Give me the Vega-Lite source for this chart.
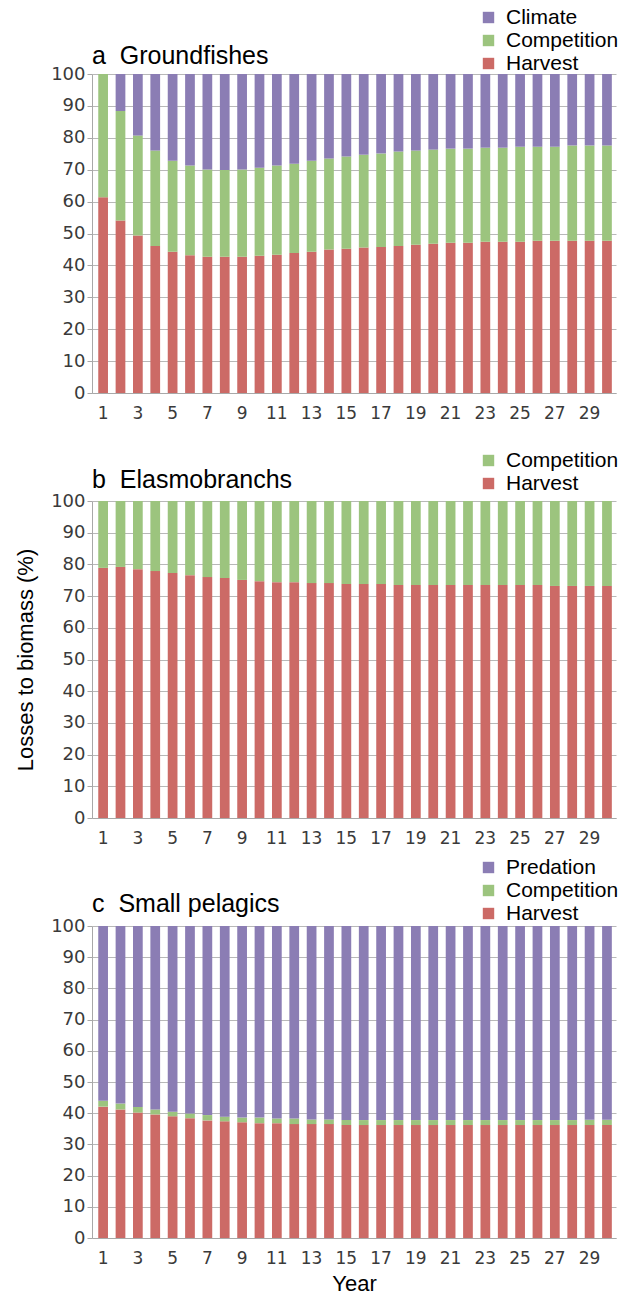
{
  "$schema": "https://vega.github.io/schema/vega-lite/v6.json",
  "padding": {"left": 14, "top": 7, "right": 4, "bottom": 1},
  "background": "white",
  "datasets": {
    "ground": [
      {"year": 1, "Harvest": 61.4, "Competition": 38.6, "Climate": 0},
      {"year": 2, "Harvest": 54.1, "Competition": 34.3, "Climate": 11.6},
      {"year": 3, "Harvest": 49.4, "Competition": 31.3, "Climate": 19.3},
      {"year": 4, "Harvest": 46.1, "Competition": 29.9, "Climate": 24.0},
      {"year": 5, "Harvest": 44.3, "Competition": 28.5, "Climate": 27.2},
      {"year": 6, "Harvest": 43.2, "Competition": 28.1, "Climate": 28.7},
      {"year": 7, "Harvest": 42.7, "Competition": 27.4, "Climate": 29.9},
      {"year": 8, "Harvest": 42.7, "Competition": 27.2, "Climate": 30.1},
      {"year": 9, "Harvest": 42.7, "Competition": 27.4, "Climate": 29.9},
      {"year": 10, "Harvest": 43.0, "Competition": 27.6, "Climate": 29.4},
      {"year": 11, "Harvest": 43.3, "Competition": 28.0, "Climate": 28.7},
      {"year": 12, "Harvest": 43.9, "Competition": 28.0, "Climate": 28.1},
      {"year": 13, "Harvest": 44.3, "Competition": 28.5, "Climate": 27.2},
      {"year": 14, "Harvest": 45.0, "Competition": 28.5, "Climate": 26.5},
      {"year": 15, "Harvest": 45.2, "Competition": 28.9, "Climate": 25.9},
      {"year": 16, "Harvest": 45.6, "Competition": 29.1, "Climate": 25.3},
      {"year": 17, "Harvest": 45.8, "Competition": 29.3, "Climate": 24.9},
      {"year": 18, "Harvest": 46.1, "Competition": 29.6, "Climate": 24.3},
      {"year": 19, "Harvest": 46.5, "Competition": 29.5, "Climate": 24.0},
      {"year": 20, "Harvest": 46.8, "Competition": 29.5, "Climate": 23.7},
      {"year": 21, "Harvest": 47.1, "Competition": 29.5, "Climate": 23.4},
      {"year": 22, "Harvest": 47.1, "Competition": 29.5, "Climate": 23.4},
      {"year": 23, "Harvest": 47.4, "Competition": 29.5, "Climate": 23.1},
      {"year": 24, "Harvest": 47.4, "Competition": 29.5, "Climate": 23.1},
      {"year": 25, "Harvest": 47.4, "Competition": 29.8, "Climate": 22.8},
      {"year": 26, "Harvest": 47.7, "Competition": 29.5, "Climate": 22.8},
      {"year": 27, "Harvest": 47.7, "Competition": 29.5, "Climate": 22.8},
      {"year": 28, "Harvest": 47.7, "Competition": 29.9, "Climate": 22.4},
      {"year": 29, "Harvest": 47.7, "Competition": 29.9, "Climate": 22.4},
      {"year": 30, "Harvest": 47.7, "Competition": 29.9, "Climate": 22.4}
    ],
    "elasmo": [
      {"year": 1, "Harvest": 78.9, "Competition": 21.1},
      {"year": 2, "Harvest": 79.2, "Competition": 20.8},
      {"year": 3, "Harvest": 78.5, "Competition": 21.5},
      {"year": 4, "Harvest": 77.9, "Competition": 22.1},
      {"year": 5, "Harvest": 77.3, "Competition": 22.7},
      {"year": 6, "Harvest": 76.6, "Competition": 23.4},
      {"year": 7, "Harvest": 76.0, "Competition": 24.0},
      {"year": 8, "Harvest": 75.7, "Competition": 24.3},
      {"year": 9, "Harvest": 75.1, "Competition": 24.9},
      {"year": 10, "Harvest": 74.7, "Competition": 25.3},
      {"year": 11, "Harvest": 74.4, "Competition": 25.6},
      {"year": 12, "Harvest": 74.4, "Competition": 25.6},
      {"year": 13, "Harvest": 74.1, "Competition": 25.9},
      {"year": 14, "Harvest": 74.1, "Competition": 25.9},
      {"year": 15, "Harvest": 73.8, "Competition": 26.2},
      {"year": 16, "Harvest": 73.8, "Competition": 26.2},
      {"year": 17, "Harvest": 73.8, "Competition": 26.2},
      {"year": 18, "Harvest": 73.5, "Competition": 26.5},
      {"year": 19, "Harvest": 73.5, "Competition": 26.5},
      {"year": 20, "Harvest": 73.5, "Competition": 26.5},
      {"year": 21, "Harvest": 73.5, "Competition": 26.5},
      {"year": 22, "Harvest": 73.5, "Competition": 26.5},
      {"year": 23, "Harvest": 73.5, "Competition": 26.5},
      {"year": 24, "Harvest": 73.5, "Competition": 26.5},
      {"year": 25, "Harvest": 73.5, "Competition": 26.5},
      {"year": 26, "Harvest": 73.5, "Competition": 26.5},
      {"year": 27, "Harvest": 73.2, "Competition": 26.8},
      {"year": 28, "Harvest": 73.2, "Competition": 26.8},
      {"year": 29, "Harvest": 73.2, "Competition": 26.8},
      {"year": 30, "Harvest": 73.2, "Competition": 26.8}
    ],
    "pelagic": [
      {"year": 1, "Harvest": 42.1, "Competition": 1.9, "Predation": 56.0},
      {"year": 2, "Harvest": 41.2, "Competition": 1.9, "Predation": 56.9},
      {"year": 3, "Harvest": 40.2, "Competition": 1.8, "Predation": 58.0},
      {"year": 4, "Harvest": 39.6, "Competition": 1.6, "Predation": 58.8},
      {"year": 5, "Harvest": 39.0, "Competition": 1.5, "Predation": 59.5},
      {"year": 6, "Harvest": 38.4, "Competition": 1.5, "Predation": 60.1},
      {"year": 7, "Harvest": 37.7, "Competition": 1.7, "Predation": 60.6},
      {"year": 8, "Harvest": 37.4, "Competition": 1.5, "Predation": 61.1},
      {"year": 9, "Harvest": 37.1, "Competition": 1.5, "Predation": 61.4},
      {"year": 10, "Harvest": 36.8, "Competition": 1.8, "Predation": 61.4},
      {"year": 11, "Harvest": 36.8, "Competition": 1.5, "Predation": 61.7},
      {"year": 12, "Harvest": 36.5, "Competition": 1.8, "Predation": 61.7},
      {"year": 13, "Harvest": 36.5, "Competition": 1.5, "Predation": 62.0},
      {"year": 14, "Harvest": 36.5, "Competition": 1.5, "Predation": 62.0},
      {"year": 15, "Harvest": 36.2, "Competition": 1.6, "Predation": 62.2},
      {"year": 16, "Harvest": 36.2, "Competition": 1.6, "Predation": 62.2},
      {"year": 17, "Harvest": 36.2, "Competition": 1.6, "Predation": 62.2},
      {"year": 18, "Harvest": 36.2, "Competition": 1.6, "Predation": 62.2},
      {"year": 19, "Harvest": 36.2, "Competition": 1.6, "Predation": 62.2},
      {"year": 20, "Harvest": 36.2, "Competition": 1.6, "Predation": 62.2},
      {"year": 21, "Harvest": 36.2, "Competition": 1.6, "Predation": 62.2},
      {"year": 22, "Harvest": 36.2, "Competition": 1.6, "Predation": 62.2},
      {"year": 23, "Harvest": 36.2, "Competition": 1.6, "Predation": 62.2},
      {"year": 24, "Harvest": 36.2, "Competition": 1.6, "Predation": 62.2},
      {"year": 25, "Harvest": 36.2, "Competition": 1.6, "Predation": 62.2},
      {"year": 26, "Harvest": 36.2, "Competition": 1.6, "Predation": 62.2},
      {"year": 27, "Harvest": 36.2, "Competition": 1.6, "Predation": 62.2},
      {"year": 28, "Harvest": 36.2, "Competition": 1.6, "Predation": 62.2},
      {"year": 29, "Harvest": 36.2, "Competition": 1.7, "Predation": 62.1},
      {"year": 30, "Harvest": 36.2, "Competition": 1.7, "Predation": 62.1}
    ]
  },
  "bounds": "flush",
  "spacing": 108,
  "vconcat": [
    {
      "data": {"name": "ground"},
      "transform": [
        {"fold": ["Harvest", "Competition", "Climate"], "as": ["cause", "value"]},
        {"window": [{"op": "row_number", "as": "rank"}], "groupby": ["year"]}
      ],
      "title": {"text": "a\u00a0\u00a0Groundfishes", "dy": 66},
      "width": 524,
      "height": 319,
      "mark": {"type": "bar"},
      "encoding": {
        "x": {"field": "year", "type": "ordinal", "scale": {"paddingInner": 0.44, "paddingOuter": 0.3, "align": 0.6}, "axis": {"title": null}},
        "y": {"field": "value", "type": "quantitative", "stack": "zero", "scale": {"domain": [0, 100]}, "axis": {"title": null}},
        "order": {"field": "rank", "type": "quantitative", "sort": "ascending"},
        "color": {
          "field": "cause", "type": "nominal",
          "scale": {"domain": ["Harvest", "Competition", "Climate"], "range": ["#CC6A66", "#9CC47E", "#8B7DB4"]},
          "legend": {"values": ["Climate", "Competition", "Harvest"], "orient": "none", "legendX": 386, "legendY": -67}
        }
      }
    },
    {
      "data": {"name": "elasmo"},
      "transform": [
        {"fold": ["Harvest", "Competition"], "as": ["cause", "value"]},
        {"window": [{"op": "row_number", "as": "rank"}], "groupby": ["year"]}
      ],
      "title": {"text": "b\u00a0\u00a0Elasmobranchs", "dy": 47},
      "width": 524,
      "height": 317,
      "mark": {"type": "bar"},
      "encoding": {
        "x": {"field": "year", "type": "ordinal", "scale": {"paddingInner": 0.44, "paddingOuter": 0.3, "align": 0.6}, "axis": {"title": null}},
        "y": {"field": "value", "type": "quantitative", "stack": "zero", "scale": {"domain": [0, 100]}, "axis": {"title": "Losses to biomass (%)"}},
        "order": {"field": "rank", "type": "quantitative", "sort": "ascending"},
        "color": {
          "field": "cause", "type": "nominal",
          "scale": {"domain": ["Harvest", "Competition"], "range": ["#CC6A66", "#9CC47E"]},
          "legend": {"values": ["Competition", "Harvest"], "orient": "none", "legendX": 386, "legendY": -51}
        }
      }
    },
    {
      "data": {"name": "pelagic"},
      "transform": [
        {"fold": ["Harvest", "Competition", "Predation"], "as": ["cause", "value"]},
        {"window": [{"op": "row_number", "as": "rank"}], "groupby": ["year"]}
      ],
      "title": {"text": "c\u00a0\u00a0Small pelagics", "dy": 64},
      "width": 524,
      "height": 312,
      "mark": {"type": "bar"},
      "encoding": {
        "x": {"field": "year", "type": "ordinal", "scale": {"paddingInner": 0.44, "paddingOuter": 0.3, "align": 0.6}, "axis": {"title": "Year"}},
        "y": {"field": "value", "type": "quantitative", "stack": "zero", "scale": {"domain": [0, 100]}, "axis": {"title": null}},
        "order": {"field": "rank", "type": "quantitative", "sort": "ascending"},
        "color": {
          "field": "cause", "type": "nominal",
          "scale": {"domain": ["Harvest", "Competition", "Predation"], "range": ["#CC6A66", "#9CC47E", "#8B7DB4"]},
          "legend": {"values": ["Predation", "Competition", "Harvest"], "orient": "none", "legendX": 386, "legendY": -69}
        }
      }
    }
  ],
  "resolve": {"scale": {"color": "independent"}, "legend": {"color": "independent"}},
  "config": {
    "view": {"stroke": null},
    "title": {"anchor": "start", "frame": "group", "font": "Liberation Sans", "fontSize": 25, "fontWeight": "normal", "color": "#000000", "offset": 0},
    "axis": {
      "labelFont": "DejaVu Sans", "labelFontSize": 17, "labelColor": "#3a3a3a",
      "titleFont": "Liberation Sans", "titleFontSize": 22, "titleFontWeight": "normal", "titleColor": "#000000",
      "domainColor": "#a8a8a8", "tickColor": "#a8a8a8", "gridColor": "#b8b8b8"
    },
    "axisX": {"labelAngle": 0, "ticks": false, "grid": false, "labelPadding": 12, "titlePadding": 7, "labelExpr": "datum.value % 2 == 1 ? datum.label : ''"},
    "axisY": {"values": [0, 10, 20, 30, 40, 50, 60, 70, 80, 90, 100], "labelFontSize": 18, "tickSize": 5, "labelPadding": 2, "titlePadding": 13, "domain": true},
    "legend": {"title": null, "symbolType": "square", "symbolSize": 130, "symbolStrokeWidth": 0, "labelFont": "Liberation Sans", "labelFontSize": 21, "labelColor": "#000000", "labelOffset": 7, "rowPadding": 1, "padding": 0}
  }
}
